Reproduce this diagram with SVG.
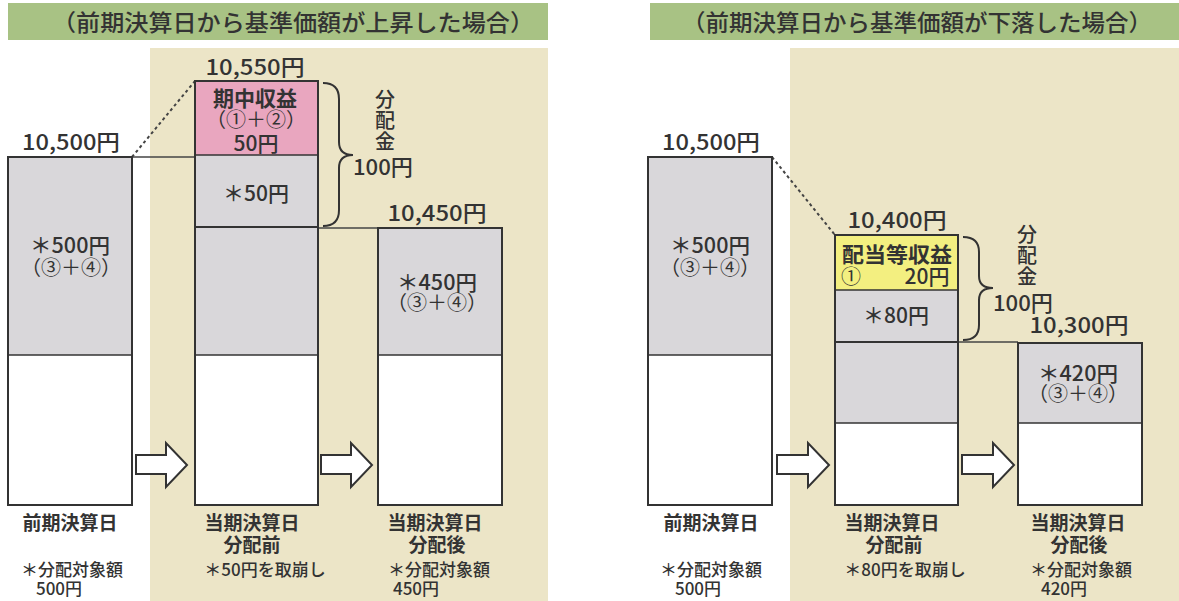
<svg xmlns="http://www.w3.org/2000/svg" width="1179" height="601" viewBox="0 0 1179 601">
<style>
text{font-family:"Noto Sans CJK JP","Noto Sans",sans-serif;fill:#333;}
.hd{font-size:23px;font-weight:500;text-anchor:middle;}
.num{font-size:22px;font-weight:500;text-anchor:middle;}
.in{font-size:21px;font-weight:500;text-anchor:middle;}
.pr{font-size:20px;font-weight:normal;}
.bl{font-size:21px;font-weight:bold;}
.lb{font-size:19px;font-weight:bold;text-anchor:middle;}
.sm{font-size:17px;font-weight:500;text-anchor:middle;}
.vt{font-size:20px;font-weight:500;writing-mode:vertical-rl;letter-spacing:1px;}
.box{stroke:#333;stroke-width:2;}
.gray{fill:#d9d7da;}
.white{fill:#fff;}
.div{stroke:#333;stroke-width:1.5;}
.conn{stroke:#444;stroke-width:1.5;fill:none;}
.dash{stroke:#444;stroke-width:2;stroke-dasharray:3 3;fill:none;}
.brace{stroke:#333;stroke-width:2;fill:none;}
.arrow{fill:#fff;stroke:#333;stroke-width:2;stroke-linejoin:miter;}
</style>
<rect x="0" y="0" width="1179" height="601" fill="#fff"/>
<!-- backgrounds -->
<rect x="8" y="3" width="540" height="37" fill="#a8c284"/>
<rect x="650" y="3" width="529" height="37" fill="#a8c284"/>
<rect x="150" y="48" width="398" height="553" fill="#ece5c7"/>
<rect x="790" y="48" width="389" height="553" fill="#ece5c7"/>
<text class="hd" x="293" y="31" textLength="482" lengthAdjust="spacingAndGlyphs">（前期決算日から基準価額が上昇した場合）</text>
<text class="hd" x="917" y="31" textLength="470" lengthAdjust="spacingAndGlyphs">（前期決算日から基準価額が下落した場合）</text>

<!-- connectors -->
<g id="connectors">
<line class="conn" x1="132" y1="157" x2="195" y2="157"/>
<line class="dash" x1="132" y1="157" x2="195" y2="81"/>
<line class="conn" x1="318" y1="228" x2="378" y2="228"/>
<path class="brace" d="M323,83 Q339,83 339,99 L339,142 Q339,155 353,155 Q339,155 339,168 L339,210 Q339,226 323,226"/>
<polygon class="arrow" points="136,455 166,455 166,443 187,465 166,487 166,474 136,474"/>
<polygon class="arrow" points="321,455 351,455 351,443 372,465 351,487 351,474 321,474"/>
<line class="dash" x1="772" y1="157" x2="835" y2="235"/>
<line class="conn" x1="958" y1="342" x2="1018" y2="342"/>
<path class="brace" d="M963,237 Q979,237 979,252 L979,276 Q979,288 993,288 Q979,288 979,300 L979,325 Q979,340 963,340"/>
<polygon class="arrow" points="777,455 808,455 808,443 829,465 808,487 808,474 777,474"/>
<polygon class="arrow" points="962,455 993,455 993,443 1014,465 993,487 993,474 962,474"/>
</g>

<!-- LEFT PANEL -->
<g id="L-prev">
<rect class="gray" x="8" y="157" width="124" height="198"/>
<rect class="white" x="8" y="355" width="124" height="150"/>
<rect class="box" fill="none" x="8" y="157" width="124" height="348"/>
<line class="div" x1="8" y1="355" x2="132" y2="355"/>
<text class="num" x="71" y="150" textLength="98" lengthAdjust="spacingAndGlyphs">10,500円</text>
<text class="in"><tspan x="70" y="253" textLength="80" lengthAdjust="spacingAndGlyphs">＊500円</tspan><tspan class="pr" x="71" y="275">（③＋④）</tspan></text>
<text class="lb" x="70" y="530">前期決算日</text>
<text class="sm"><tspan x="72" y="576">＊分配対象額</tspan><tspan x="59" y="595">500円</tspan></text>
</g>

<g id="L-before">
<rect fill="#e9a6bf" x="195" y="81" width="123" height="74"/>
<rect class="gray" x="195" y="155" width="123" height="200"/>
<rect class="white" x="195" y="355" width="123" height="150"/>
<rect class="box" fill="none" x="195" y="81" width="123" height="424"/>
<line class="div" x1="195" y1="155" x2="318" y2="155"/>
<line class="box" x1="195" y1="227" x2="318" y2="227"/>
<line class="div" x1="195" y1="355" x2="318" y2="355"/>
<text class="num" x="255" y="75" textLength="99" lengthAdjust="spacingAndGlyphs">10,550円</text>
<text class="in"><tspan class="bl" x="255" y="106">期中収益</tspan><tspan class="pr" x="256" y="127">（①＋②）</tspan><tspan x="256" y="151">50円</tspan></text>
<text class="in" x="256" y="201">＊50円</text>
<text class="lb"><tspan x="252" y="530">当期決算日</tspan><tspan x="252" y="552">分配前</tspan></text>
<text class="sm" x="265" y="576">＊50円を取崩し</text>
</g>

<g id="L-dist">
<text class="vt" x="385" y="89">分配金</text>
<text class="num" x="353" y="175" style="text-anchor:start" textLength="60" lengthAdjust="spacingAndGlyphs">100円</text>
</g>

<g id="L-after">
<rect class="gray" x="378" y="228" width="124" height="127"/>
<rect class="white" x="378" y="355" width="124" height="150"/>
<rect class="box" fill="none" x="378" y="228" width="124" height="277"/>
<line class="div" x1="378" y1="355" x2="502" y2="355"/>
<text class="num" x="437" y="221" textLength="99" lengthAdjust="spacingAndGlyphs">10,450円</text>
<text class="in"><tspan x="437" y="290" textLength="80" lengthAdjust="spacingAndGlyphs">＊450円</tspan><tspan class="pr" x="437" y="310">（③＋④）</tspan></text>
<text class="lb"><tspan x="435" y="530">当期決算日</tspan><tspan x="437" y="552">分配後</tspan></text>
<text class="sm"><tspan x="439" y="576">＊分配対象額</tspan><tspan x="416" y="595">450円</tspan></text>
</g>

<!-- RIGHT PANEL -->
<g id="R-prev">
<rect class="gray" x="648" y="157" width="124" height="198"/>
<rect class="white" x="648" y="355" width="124" height="150"/>
<rect class="box" fill="none" x="648" y="157" width="124" height="348"/>
<line class="div" x1="648" y1="355" x2="772" y2="355"/>
<text class="num" x="711" y="150" textLength="98" lengthAdjust="spacingAndGlyphs">10,500円</text>
<text class="in"><tspan x="710" y="253" textLength="80" lengthAdjust="spacingAndGlyphs">＊500円</tspan><tspan class="pr" x="710" y="275">（③＋④）</tspan></text>
<text class="lb" x="711" y="530">前期決算日</text>
<text class="sm"><tspan x="711" y="576">＊分配対象額</tspan><tspan x="698" y="595">500円</tspan></text>
</g>

<g id="R-before">
<rect fill="#f3ef80" x="835" y="235" width="123" height="55"/>
<rect class="gray" x="835" y="290" width="123" height="133"/>
<rect class="white" x="835" y="423" width="123" height="82"/>
<rect class="box" fill="none" x="835" y="235" width="123" height="270"/>
<line class="div" x1="835" y1="290" x2="958" y2="290"/>
<line class="box" x1="835" y1="342" x2="958" y2="342"/>
<line class="div" x1="835" y1="423" x2="958" y2="423"/>
<text class="num" x="897" y="228" textLength="99" lengthAdjust="spacingAndGlyphs">10,400円</text>
<text class="in"><tspan class="bl" x="897" y="262" textLength="110" lengthAdjust="spacingAndGlyphs">配当等収益</tspan><tspan class="pr" x="851" y="284">①</tspan><tspan x="927" y="284">20円</tspan></text>
<text class="in" x="896" y="323">＊80円</text>
<text class="lb"><tspan x="892" y="530">当期決算日</tspan><tspan x="894" y="552">分配前</tspan></text>
<text class="sm" x="905" y="576">＊80円を取崩し</text>
</g>

<g id="R-dist">
<text class="vt" x="1027" y="224">分配金</text>
<text class="num" x="993" y="311" style="text-anchor:start" textLength="60" lengthAdjust="spacingAndGlyphs">100円</text>
</g>

<g id="R-after">
<rect class="gray" x="1018" y="343" width="124" height="80"/>
<rect class="white" x="1018" y="423" width="124" height="82"/>
<rect class="box" fill="none" x="1018" y="343" width="124" height="162"/>
<line class="div" x1="1018" y1="423" x2="1142" y2="423"/>
<text class="num" x="1079" y="333" textLength="99" lengthAdjust="spacingAndGlyphs">10,300円</text>
<text class="in"><tspan x="1078" y="381" textLength="80" lengthAdjust="spacingAndGlyphs">＊420円</tspan><tspan class="pr" x="1078" y="401">（③＋④）</tspan></text>
<text class="lb"><tspan x="1078" y="530">当期決算日</tspan><tspan x="1079" y="552">分配後</tspan></text>
<text class="sm"><tspan x="1081" y="576">＊分配対象額</tspan><tspan x="1064" y="595">420円</tspan></text>
</g>
</svg>
